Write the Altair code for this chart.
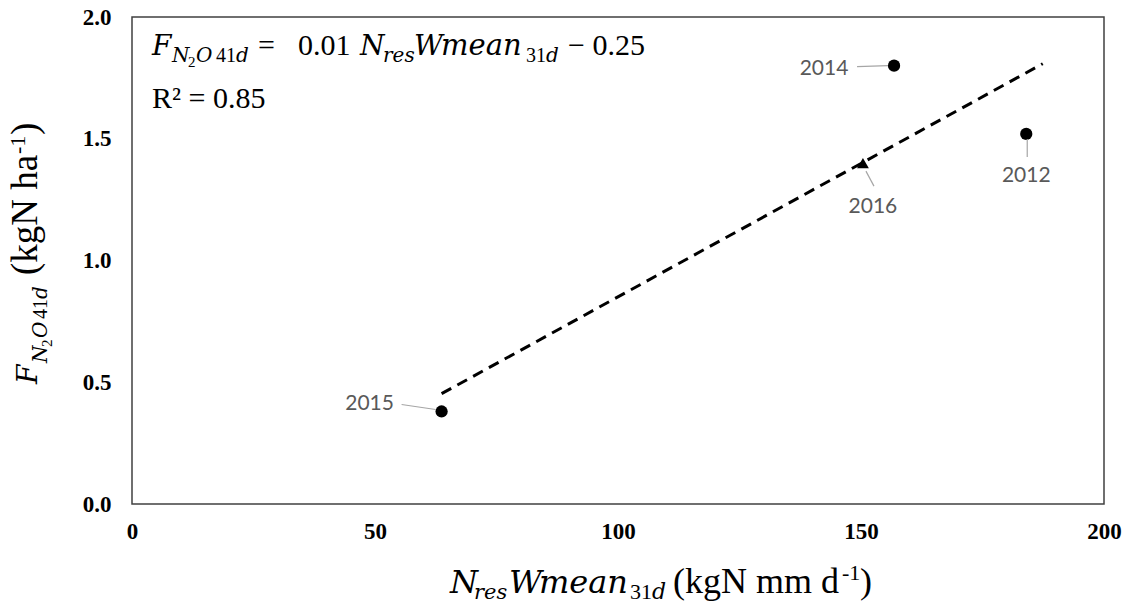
import altair as alt
import pandas as pd

# ---- data ----
years = ["2012", "2014", "2015", "2016"]
nres_wmean = [184.0, 156.8, 63.7, 150.4]
fn2o_41d = [1.52, 1.80, 0.38, 1.40]
marker = ["circle", "circle", "circle", "triangle-up"]
x_ticks = [0, 50, 100, 150, 200]
y_ticks = [0.0, 0.5, 1.0, 1.5, 2.0]
trend_extent = [63.7, 187.4]

df = pd.DataFrame({"year": years, "x": nres_wmean, "y": fn2o_41d, "m": marker})

SERIF = "Liberation Serif"
MATH = "DejaVu Serif"
W, H = 972, 487

X = alt.X("x:Q", scale=alt.Scale(domain=[0, 200], nice=False),
          axis=alt.Axis(values=x_ticks, title=None, grid=False, ticks=False, tickSize=0,
                        domain=False, labelFont=SERIF, labelFontWeight="bold",
                        labelFontSize=23, labelPadding=16, labelColor="black",
                        labelFlush=False, labelOverlap=False))
Y = alt.Y("y:Q", scale=alt.Scale(domain=[0, 2], nice=False),
          axis=alt.Axis(values=y_ticks, format=".1f", title=None, grid=False, ticks=False,
                        tickSize=0, domain=False, labelFont=SERIF, labelFontWeight="bold",
                        labelFontSize=23, labelPadding=21, labelColor="black",
                        labelFlush=False, labelOverlap=False))

base = alt.Chart(df)

trend = base.transform_regression("x", "y", extent=trend_extent).mark_line(
    color="black", strokeWidth=3, strokeDash=[11, 7]).encode(x=X, y=Y)

circles = base.transform_filter(alt.datum.m == "circle").mark_point(
    filled=True, color="black", opacity=1, size=150, shape="circle").encode(x=X, y=Y)
tris = base.transform_filter(alt.datum.m == "triangle-up").mark_point(
    filled=True, color="black", opacity=1, size=140, shape="triangle-up").encode(x=X, y=Y)

# label placement (style offsets, pixels)
label_style = {
    "2012": dict(dx=0, dy=42, lead=(1, 5, 1, 23)),
    "2014": dict(dx=-70, dy=3, lead=(-37, 1, -6, 0)),
    "2015": dict(dx=-72, dy=-7, lead=(-40, -7, -6, -2)),
    "2016": dict(dx=10, dy=44, lead=(3, 8, 11, 23)),
}
label_layers = []
for yr, st in label_style.items():
    sel = base.transform_filter(alt.datum.year == yr)
    x0, y0, x1, y1 = st["lead"]
    label_layers.append(sel.mark_rule(color="#a6a6a6", strokeWidth=1.2,
                                      xOffset=x0, yOffset=y0, x2Offset=x1, y2Offset=y1)
                        .encode(x=X, y=Y, x2=alt.X2("x"), y2=alt.Y2("y")))
    label_layers.append(sel.mark_text(font="Lato", fontSize=21, color="#595959",
                                      align="center", baseline="middle",
                                      dx=st["dx"], dy=st["dy"])
                        .encode(x=X, y=Y, text="year:N"))


def txt(s, x, y, size, italic=False, font=SERIF, angle=0):
    props = dict(align="left", baseline="alphabetic", font=font, fontSize=size,
                 fontStyle="italic" if italic else "normal", color="black")
    if angle:
        props["angle"] = angle
    return alt.Chart(pd.DataFrame({"t": [s]})).mark_text(**props).encode(
        x=alt.value(x), y=alt.value(y), text="t:N")


# equation and R² inside the plot
eq = [
    txt("F", 20, 38, 28, True, MATH),
    txt("N", 40, 45, 20, True, MATH),
    txt("2", 56, 50, 15),
    txt("O", 64, 45, 20, True, MATH),
    txt("41", 84, 45, 20),
    txt("d", 104, 45, 20, True, MATH),
    txt("=", 126, 38, 30),
    txt("0.01", 166, 38, 30),
    txt("N", 228, 38, 28, True, MATH),
    txt("res", 251, 45, 20, True, MATH),
    txt("W", 282, 38, 28, True, MATH),
    txt("mean", 309, 38, 29, True, MATH),
    txt("31", 394, 45, 20),
    txt("d", 414, 45, 20, True, MATH),
    txt("\u2212 0.25", 436, 38, 30),
    txt("R\u00b2 = 0.85", 20, 91, 30),
]

# x axis title
xt = [
    txt("N", 318, 576, 32, True, MATH),
    txt("res", 342, 582, 21, True, MATH),
    txt("W", 377, 576, 32, True, MATH),
    txt("mean", 407, 576, 32, True, MATH),
    txt("31", 498, 582, 22),
    txt("d", 520, 582, 22, True, MATH),
    txt("(kgN mm d", 541, 576, 36),
    txt("-1", 710, 563, 22),
    txt(")", 728, 576, 36),
]

# y axis title (rotated)
yt = [
    txt("F", -95, 367, 28, True, MATH, 270),
    txt("N", -85, 346, 20, True, MATH, 270),
    txt("2", -80, 330, 15, False, SERIF, 270),
    txt("O", -85, 321, 20, True, MATH, 270),
    txt("41", -85, 302, 20, False, SERIF, 270),
    txt("d", -85, 282, 20, True, MATH, 270),
    txt("(kgN ha", -95, 258, 37, False, SERIF, 270),
    txt("-1", -107, 137, 22, False, SERIF, 270),
    txt(")", -95, 118, 37, False, SERIF, 270),
]

chart = alt.layer(trend, circles, tris, *label_layers, *eq, *xt, *yt).properties(
    width=W, height=H,
    autosize=alt.AutoSizeParams(type="none"),
    padding={"left": 124, "top": 9, "right": 18, "bottom": 99},
    background="white",
).configure_view(stroke="#404040", strokeWidth=1.5)

chart.save("out.html", embed_options={"renderer": "svg", "actions": False})
